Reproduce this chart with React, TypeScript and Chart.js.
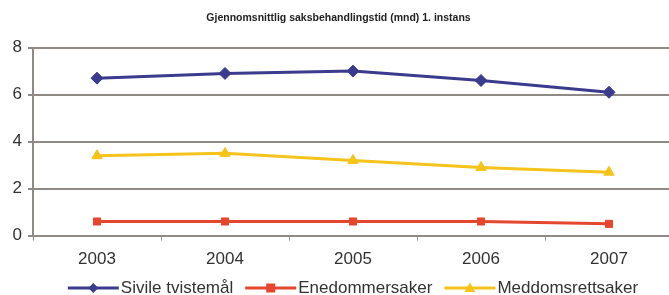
import React, { useEffect, useRef } from "react";
import { Chart, registerables } from "chart.js";

Chart.register(...registerables);

const titleText = "Gjennomsnittlig saksbehandlingstid (mnd) 1. instans";
const categories = ["2003", "2004", "2005", "2006", "2007"];
const sivile = [6.7, 6.9, 7.0, 6.6, 6.1];
const enedommer = [0.6, 0.6, 0.6, 0.6, 0.5];
const meddom = [3.4, 3.5, 3.2, 2.9, 2.7];
const seriesNames = ["Sivile tvistemål", "Enedommersaker", "Meddomsrettsaker"];

const COLORS = ["#3b3b8e", "#e5472e", "#f5c31c"];
const STYLES: any[] = ["rectRot", "rect", "triangle"];
const FONT = "'Liberation Sans', Arial, sans-serif";

const legendPlugin = {
  id: "customLegend",
  afterDraw(chart: any) {
    const ctx = chart.ctx;
    const area = chart.chartArea;
    ctx.save();
    ctx.font = `17px ${FONT}`;
    const lineLen = 51;
    const gapText = 2;
    const gapItem = 12;
    const widths = chart.data.datasets.map((d: any) => ctx.measureText(d.label).width);
    let total = 0;
    widths.forEach((w: number, i: number) => {
      total += lineLen + gapText + w + (i < widths.length - 1 ? gapItem : 0);
    });
    let x = (area.left + area.right) / 2 - total / 2;
    const y = 288;
    chart.data.datasets.forEach((d: any, i: number) => {
      ctx.strokeStyle = d.borderColor;
      ctx.lineWidth = 3;
      ctx.beginPath();
      ctx.moveTo(x, y);
      ctx.lineTo(x + lineLen, y);
      ctx.stroke();
      ctx.fillStyle = d.borderColor;
      ctx.strokeStyle = d.borderColor;
      ctx.lineWidth = 1;
      const mx = x + lineLen / 2;
      const r = 5;
      ctx.beginPath();
      if (d.pointStyle === "rectRot") {
        ctx.moveTo(mx, y - r);
        ctx.lineTo(mx + r, y);
        ctx.lineTo(mx, y + r);
        ctx.lineTo(mx - r, y);
        ctx.closePath();
      } else if (d.pointStyle === "rect") {
        ctx.rect(mx - 4.5, y - 4.5, 9, 9);
      } else {
        ctx.moveTo(mx, y - 5.5);
        ctx.lineTo(mx + 5.5, y + 4);
        ctx.lineTo(mx - 5.5, y + 4);
        ctx.closePath();
      }
      ctx.fill();
      ctx.fillStyle = "#333333";
      ctx.textBaseline = "middle";
      ctx.textAlign = "left";
      ctx.fillText(d.label, x + lineLen + gapText, y);
      x += lineLen + gapText + widths[i] + gapItem;
    });
    ctx.restore();
  },
};

export default function App() {
  const ref = useRef<HTMLCanvasElement>(null);
  useEffect(() => {
    document.documentElement.style.overflow = "hidden";
    document.body.style.overflow = "hidden";
    const seriesData = [sivile, enedommer, meddom];
    const chart = new Chart(ref.current!, {
      type: "line",
      data: {
        labels: categories,
        datasets: seriesData.map((vals, i) => ({
          label: seriesNames[i],
          data: vals,
          borderColor: COLORS[i],
          backgroundColor: COLORS[i],
          borderWidth: 3,
          pointStyle: STYLES[i],
          pointRadius: i === 1 ? 5 : 6,
          pointBorderWidth: 1,
          tension: 0,
        })),
      },
      options: {
        animation: false,
        responsive: false,
        maintainAspectRatio: false,
        layout: { padding: { left: 0, right: 3, top: 0, bottom: 16 } },
        plugins: {
          legend: { display: false },
          tooltip: { enabled: false },
          title: {
            display: true,
            text: titleText,
            color: "#222222",
            font: { family: FONT, size: 10.5, weight: "bold" },
            padding: { top: 12, bottom: 23 },
          },
        },
        scales: {
          x: {
            offset: true,
            grid: {
              offset: true,
              drawOnChartArea: false,
              drawTicks: true,
              tickLength: 5,
              color: "#8f8a86",
              lineWidth: 1,
            },
            border: { display: true, color: "#8f8a86", width: 2 },
            ticks: {
              color: "#333333",
              font: { family: FONT, size: 17 },
              padding: 9,
            },
          },
          y: {
            min: 0,
            max: 8,
            afterFit(scale: any) {
              scale.width = 33;
            },
            ticks: {
              stepSize: 2,
              color: "#333333",
              font: { family: FONT, size: 17 },
              padding: 6,
            },
            grid: {
              color: "#8f8a86",
              lineWidth: 2,
              drawTicks: true,
              tickLength: 5,
            },
            border: { display: true, color: "#8f8a86", width: 2 },
          },
        },
      },
      plugins: [legendPlugin],
    });
    return () => chart.destroy();
  }, []);
  return (
    <div style={{ position: "absolute", left: 0, top: 0, width: 680, height: 295, background: "#fff" }}>
      <canvas ref={ref} width={680} height={295} style={{ display: "block" }} />
    </div>
  );
}
